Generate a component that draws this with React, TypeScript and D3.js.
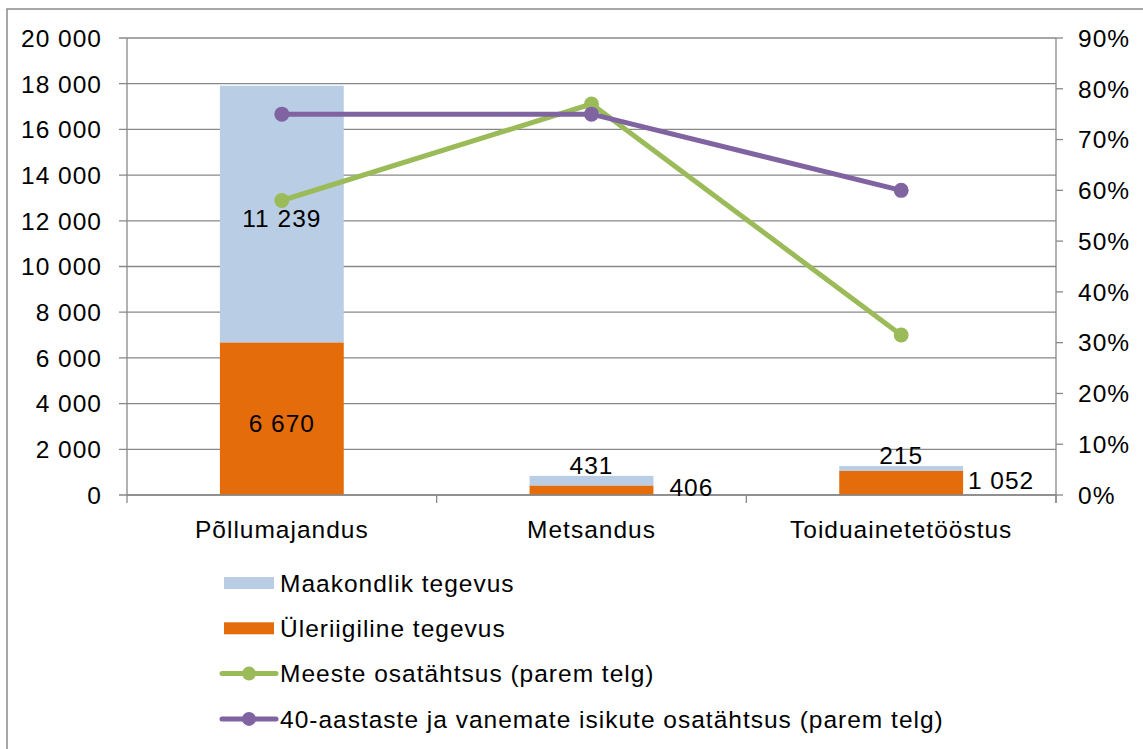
import React from "react";
import * as d3 from "d3";

const categories = ["Põllumajandus", "Metsandus", "Toiduainetetööstus"];
const uleriigiline = [6670, 406, 1052];
const maakondlik = [11239, 431, 215];
const meesteShare = [0.58, 0.77, 0.315];
const vanemadShare = [0.75, 0.75, 0.6];
const leftTicks = [0, 2000, 4000, 6000, 8000, 10000, 12000, 14000, 16000, 18000, 20000];
const rightTicks = [0, 0.1, 0.2, 0.3, 0.4, 0.5, 0.6, 0.7, 0.8, 0.9];
const legendLabels = [
  "Maakondlik tegevus",
  "Üleriigiline tegevus",
  "Meeste osatähtsus (parem telg)",
  "40-aastaste ja vanemate isikute osatähtsus (parem telg)",
];

const W = 1143;
const H = 749;
const L = 127, R = 1056, T = 38, B = 495;
const BLUE = "#B9CDE5";
const ORANGE = "#E46C0A";
const GREEN = "#9BBB59";
const PURPLE = "#8064A2";
const GRID = "#888888";
const FONT = "'Liberation Sans', Arial, sans-serif";
const FS = 24.5;
const LS = 1.0;

const fmt = (v: number) => {
  const s = Math.round(v).toString();
  return s.replace(/\B(?=(\d{3})+(?!\d))/g, " ");
};

export default function App() {
  const x = d3.scaleBand<string>().domain(categories).range([L, R]).paddingInner(0.6).paddingOuter(0.3);
  const y = d3.scaleLinear().domain([0, 20000]).range([B, T]);
  const yR = d3.scaleLinear().domain([0, 0.9]).range([B, T]);
  const step = (R - L) / categories.length;
  const cx = (c: string) => (x(c) as number) + x.bandwidth() / 2;

  const lineGen = d3
    .line<number>()
    .x((_, i) => cx(categories[i]))
    .y((d) => yR(d));

  const textStyle = { fontFamily: FONT, fontSize: FS, letterSpacing: LS, fill: "#000" } as const;

  return (
    <svg width={W} height={H} style={{ position: "absolute", left: 0, top: 0, background: "#fff" }}>
      <rect x={7} y={9} width={W + 10} height={H + 10} fill="#fff" stroke="#8a8a8a" strokeWidth={1.5} />
      {leftTicks.map((t) => (
        <g key={"g" + t}>
          <line x1={L - 8} x2={R} y1={y(t)} y2={y(t)} stroke={GRID} strokeWidth={1.3} />
          <text x={101 + LS} y={y(t)} dy="0.36em" textAnchor="end" style={textStyle}>
            {fmt(t)}
          </text>
        </g>
      ))}
      <line x1={R} x2={R} y1={T} y2={B + 8} stroke={GRID} strokeWidth={1.3} />
      {rightTicks.map((t) => (
        <g key={"r" + t}>
          <line x1={R} x2={R + 7} y1={yR(t)} y2={yR(t)} stroke={GRID} strokeWidth={1.3} />
          <text x={1078} y={yR(t)} dy="0.36em" textAnchor="start" style={textStyle}>
            {Math.round(t * 100) + "%"}
          </text>
        </g>
      ))}
      {d3.range(categories.length + 1).map((i) => (
        <line key={"ct" + i} x1={L + i * step} x2={L + i * step} y1={B} y2={B + 8} stroke={GRID} strokeWidth={1.3} />
      ))}
      {categories.map((c, i) => {
        const o = uleriigiline[i];
        const m = maakondlik[i];
        const bx = x(c) as number;
        const bw = x.bandwidth();
        return (
          <g key={"b" + c}>
            <rect x={bx} y={y(o + m)} width={bw} height={y(o) - y(o + m)} fill={BLUE} />
            <rect x={bx} y={y(o)} width={bw} height={B - y(o)} fill={ORANGE} />
          </g>
        );
      })}
      <line x1={L} x2={L} y1={T} y2={B} stroke={GRID} strokeWidth={1.3} />
      <line x1={L} x2={R} y1={B} y2={B} stroke={GRID} strokeWidth={1.3} />
      {categories.map((c, i) => {
        const o = uleriigiline[i];
        const m = maakondlik[i];
        const bx = x(c) as number;
        const bw = x.bandwidth();
        const small = B - y(o + m) < 40;
        if (!small) {
          return (
            <g key={"l" + c}>
              <text x={cx(c)} y={(y(o) + y(o + m)) / 2 + 4} dy="0.36em" textAnchor="middle" style={textStyle}>
                {fmt(m)}
              </text>
              <text x={cx(c)} y={(B + y(o)) / 2 + 4} dy="0.36em" textAnchor="middle" style={textStyle}>
                {fmt(o)}
              </text>
            </g>
          );
        }
        return (
          <g key={"l" + c}>
            <text x={cx(c)} y={y(o + m) - 11} dy="0.36em" textAnchor="middle" style={textStyle}>
              {fmt(m)}
            </text>
            <text x={bx + bw + 38} y={Math.min((B + y(o)) / 2 - 3, B - 8)} dy="0.36em" textAnchor="middle" style={textStyle}>
              {fmt(o)}
            </text>
          </g>
        );
      })}
      {[
        { d: meesteShare, c: GREEN },
        { d: vanemadShare, c: PURPLE },
      ].map((s, k) => (
        <g key={"ln" + k}>
          <path d={lineGen(s.d) || ""} fill="none" stroke={s.c} strokeWidth={5} strokeLinejoin="round" />
          {s.d.map((v, i) => (
            <circle key={i} cx={cx(categories[i])} cy={yR(v)} r={7.5} fill={s.c} />
          ))}
        </g>
      ))}
      {categories.map((c) => (
        <text key={"cl" + c} x={cx(c)} y={538} textAnchor="middle" style={textStyle}>
          {c}
        </text>
      ))}
      {legendLabels.map((lab, i) => {
        const ly = 583 + i * 45.3;
        return (
          <g key={"lg" + i}>
            {i === 0 && <rect x={224} y={ly - 6} width={50} height={12} fill={BLUE} />}
            {i === 1 && <rect x={224} y={ly - 6} width={50} height={12} fill={ORANGE} />}
            {i >= 2 && (
              <g>
                <line x1={222} x2={276} y1={ly} y2={ly} stroke={i === 2 ? GREEN : PURPLE} strokeWidth={5} strokeLinecap="round" />
                <circle cx={249} cy={ly} r={7} fill={i === 2 ? GREEN : PURPLE} />
              </g>
            )}
            <text x={280} y={ly} dy="0.36em" style={textStyle}>
              {lab}
            </text>
          </g>
        );
      })}
    </svg>
  );
}
